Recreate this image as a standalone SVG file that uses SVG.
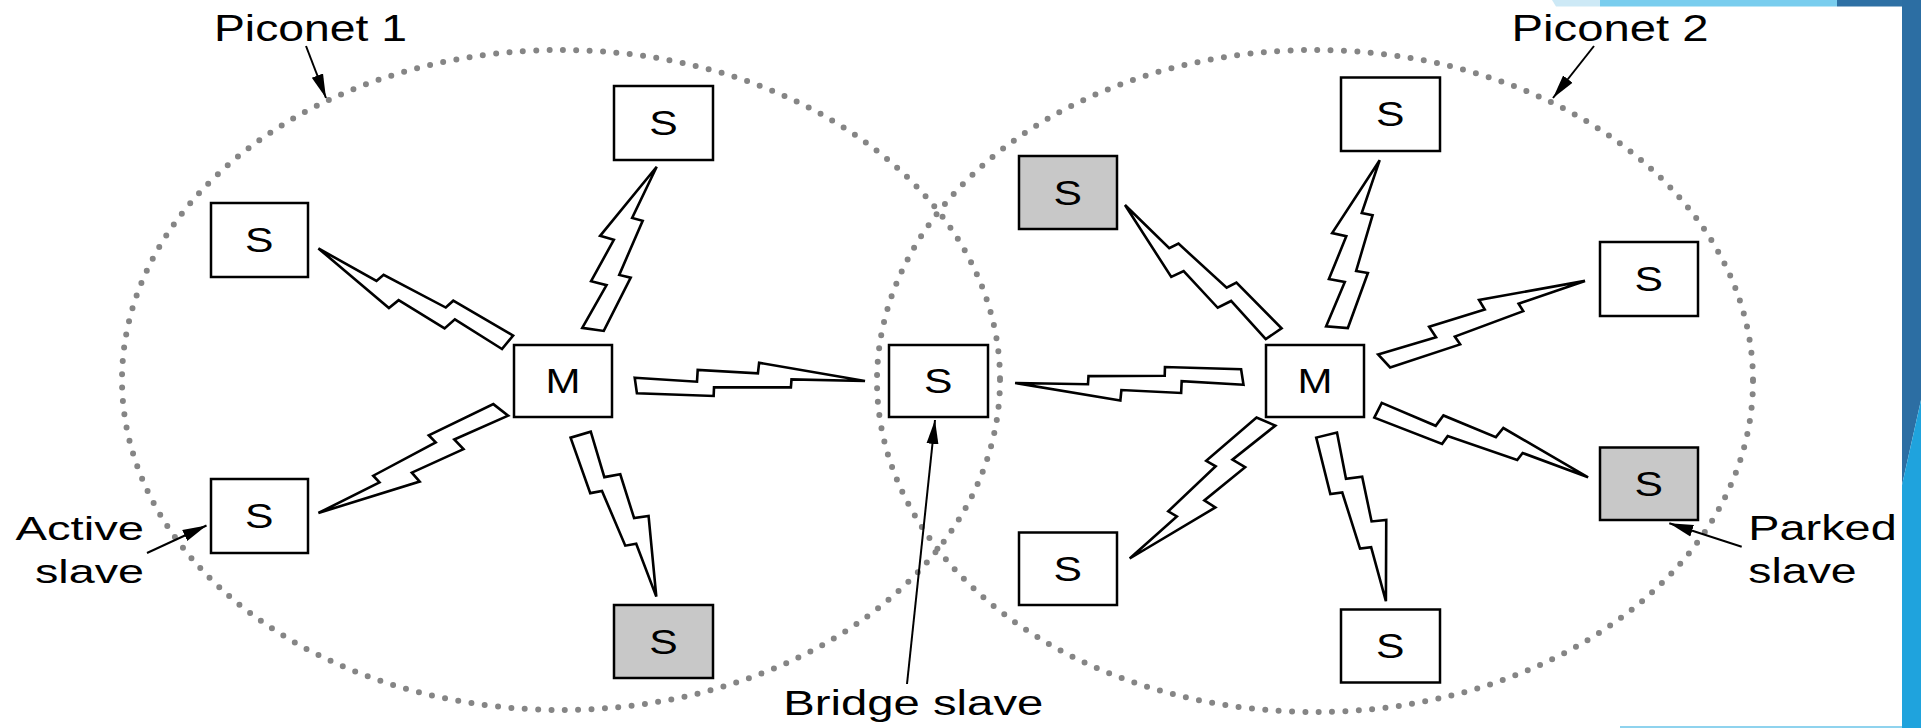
<svg xmlns="http://www.w3.org/2000/svg" xmlns:xlink="http://www.w3.org/1999/xlink" width="1921" height="728" viewBox="0 0 1921 728">
<style>
.bg{fill:#ffffff}
.piconet{fill:none;stroke:#858585;stroke-width:6;stroke-dasharray:0 13.4;stroke-linecap:round}
.node rect{fill:#ffffff;stroke:#000;stroke-width:2.5}
.node.parked rect{fill:#c8c8c8}
.node text,.lbl{font-family:"Liberation Sans",Arial,sans-serif;fill:#000}
.node text{font-size:35px}
.lbl{font-size:35px}
.bolt{fill:#ffffff;stroke:#000;stroke-width:2.6;vector-effect:non-scaling-stroke;stroke-linejoin:miter}
.call{fill:none;stroke:#000;stroke-width:2;marker-end:url(#ah)}
</style>
<defs>
<marker id="ah" markerUnits="userSpaceOnUse" markerWidth="26" markerHeight="14" refX="24" refY="7" orient="auto">
<path d="M0,1 L24,7 L0,13 Z" fill="#000"/>
</marker>
<polygon id="bolt" class="bolt" points="0,7.8 0.27,2.6 0.275,14.3 0.536,9.8 0.543,20.3 1,0 0.681,3.1 0.677,-4.9 0.343,-3.35 0.340,-12 0.007,-7.8"/>
</defs>
<rect class="bg" x="0" y="0" width="1921" height="728"/>
<g id="decor">
<polygon points="1552,0 1600,0 1600,6.5 1556,6.5" fill="#cde9f6"/>
<rect x="1600" y="0" width="237" height="6.5" fill="#79cdee"/>
<rect x="1837" y="0" width="84" height="6.5" fill="#2e70a4"/>
<polygon points="1902,0 1921,0 1921,400 1902,485" fill="#2c6ea3"/>
<polygon points="1902,485 1921,400 1921,728 1902,728" fill="#1fa3dd"/>
<rect x="1620" y="726" width="282" height="2" fill="#8fd3ee"/>
</g>
<g id="piconets">
<ellipse id="piconet1" class="piconet" cx="561" cy="380" rx="439" ry="330"/>
<ellipse id="piconet2" class="piconet" cx="1315" cy="381" rx="438" ry="331"/>
</g>
<g id="connectors">
<use xlink:href="#bolt" href="#bolt" transform="matrix(-189.8,-94.2,-0.799,0.821,508.2,342.6)"/>
<use xlink:href="#bolt" href="#bolt" transform="matrix(63.9,-163.3,-1.349,-0.269,592.8,330)"/>
<use xlink:href="#bolt" href="#bolt" transform="matrix(230,-4.5,-0.038,-1,635,385.5)"/>
<use xlink:href="#bolt" href="#bolt" transform="matrix(-183,103.5,0.869,0.784,501.4,409.5)"/>
<use xlink:href="#bolt" href="#bolt" transform="matrix(75.9,162.5,1.328,-0.316,580.4,434.1)"/>
<use xlink:href="#bolt" href="#bolt" transform="matrix(-149.2,-129.2,-1.080,0.636,1274.2,334.2)"/>
<use xlink:href="#bolt" href="#bolt" transform="matrix(42.9,-167.6,-1.377,-0.180,1336.8,327.8)"/>
<use xlink:href="#bolt" href="#bolt" transform="matrix(201.6,-80.3,-0.682,-0.873,1383.4,361.2)"/>
<use xlink:href="#bolt" href="#bolt" transform="matrix(-228,6,0.052,0.999,1243.1,377)"/>
<use xlink:href="#bolt" href="#bolt" transform="matrix(210.8,67.3,0.571,-0.913,1377.3,410)"/>
<use xlink:href="#bolt" href="#bolt" transform="matrix(-136.7,137.4,1.142,0.579,1266.4,421.1)"/>
<use xlink:href="#bolt" href="#bolt" transform="matrix(59.5,166.7,1.357,-0.247,1326.4,434.5)"/>
</g>
<g id="n-l-top" class="node"><rect x="614" y="86" width="99" height="74"/><text x="649.3" y="135" textLength="28.5" lengthAdjust="spacingAndGlyphs">S</text></g>
<g id="n-l-ul" class="node"><rect x="211" y="203" width="97" height="74"/><text x="245" y="252" textLength="28.5" lengthAdjust="spacingAndGlyphs">S</text></g>
<g id="n-l-m" class="node"><rect x="514" y="345" width="98" height="72"/><text x="545.5" y="393" textLength="35" lengthAdjust="spacingAndGlyphs">M</text></g>
<g id="n-l-ll" class="node"><rect x="211" y="479" width="97" height="74"/><text x="245" y="528" textLength="28.5" lengthAdjust="spacingAndGlyphs">S</text></g>
<g id="n-l-bot" class="node parked"><rect x="614" y="605" width="99" height="73"/><text x="649.3" y="653.5" textLength="28.5" lengthAdjust="spacingAndGlyphs">S</text></g>
<g id="n-bridge" class="node"><rect x="889" y="345" width="99" height="72"/><text x="924" y="393" textLength="28.5" lengthAdjust="spacingAndGlyphs">S</text></g>
<g id="n-r-top" class="node"><rect x="1341" y="77.5" width="99" height="73.5"/><text x="1376" y="126.3" textLength="28.5" lengthAdjust="spacingAndGlyphs">S</text></g>
<g id="n-r-ul" class="node parked"><rect x="1019" y="156" width="98" height="73"/><text x="1053.5" y="204.5" textLength="28.5" lengthAdjust="spacingAndGlyphs">S</text></g>
<g id="n-r-right" class="node"><rect x="1600" y="242" width="98" height="74"/><text x="1634.5" y="291" textLength="28.5" lengthAdjust="spacingAndGlyphs">S</text></g>
<g id="n-r-m" class="node"><rect x="1266" y="345" width="98" height="72"/><text x="1297.5" y="393" textLength="35" lengthAdjust="spacingAndGlyphs">M</text></g>
<g id="n-r-parked" class="node parked"><rect x="1600" y="447.5" width="98" height="72.5"/><text x="1634.5" y="495.5" textLength="28.5" lengthAdjust="spacingAndGlyphs">S</text></g>
<g id="n-r-ll" class="node"><rect x="1019" y="532.5" width="98" height="72.5"/><text x="1053.5" y="580.8" textLength="28.5" lengthAdjust="spacingAndGlyphs">S</text></g>
<g id="n-r-bot" class="node"><rect x="1341" y="609.5" width="99" height="73"/><text x="1376" y="658" textLength="28.5" lengthAdjust="spacingAndGlyphs">S</text></g>
<g id="callouts">
<line class="call" x1="306" y1="46" x2="326" y2="98"/>
<line class="call" x1="1594" y1="46" x2="1553" y2="98"/>
<line class="call" x1="147" y1="553" x2="206.5" y2="525.5"/>
<line class="call" x1="907" y1="684" x2="935" y2="420"/>
<line class="call" x1="1741.7" y1="546.7" x2="1669.3" y2="523.3"/>
</g>
<g id="labels">
<text class="lbl" x="214" y="41" style="font-size:36px" textLength="193" lengthAdjust="spacingAndGlyphs">Piconet 1</text>
<text class="lbl" x="1511.5" y="40.5" style="font-size:36px" textLength="197" lengthAdjust="spacingAndGlyphs">Piconet 2</text>
<text class="lbl" x="15.5" y="540" style="font-size:34px" textLength="128.5" lengthAdjust="spacingAndGlyphs">Active</text>
<text class="lbl" x="35" y="583.3" style="font-size:34px" textLength="109" lengthAdjust="spacingAndGlyphs">slave</text>
<text class="lbl" x="783.3" y="715" style="font-size:35px" textLength="260" lengthAdjust="spacingAndGlyphs">Bridge slave</text>
<text class="lbl" x="1748.3" y="540" style="font-size:35px" textLength="148.4" lengthAdjust="spacingAndGlyphs">Parked</text>
<text class="lbl" x="1748.3" y="583.3" style="font-size:35px" textLength="108.4" lengthAdjust="spacingAndGlyphs">slave</text>
</g>
</svg>
